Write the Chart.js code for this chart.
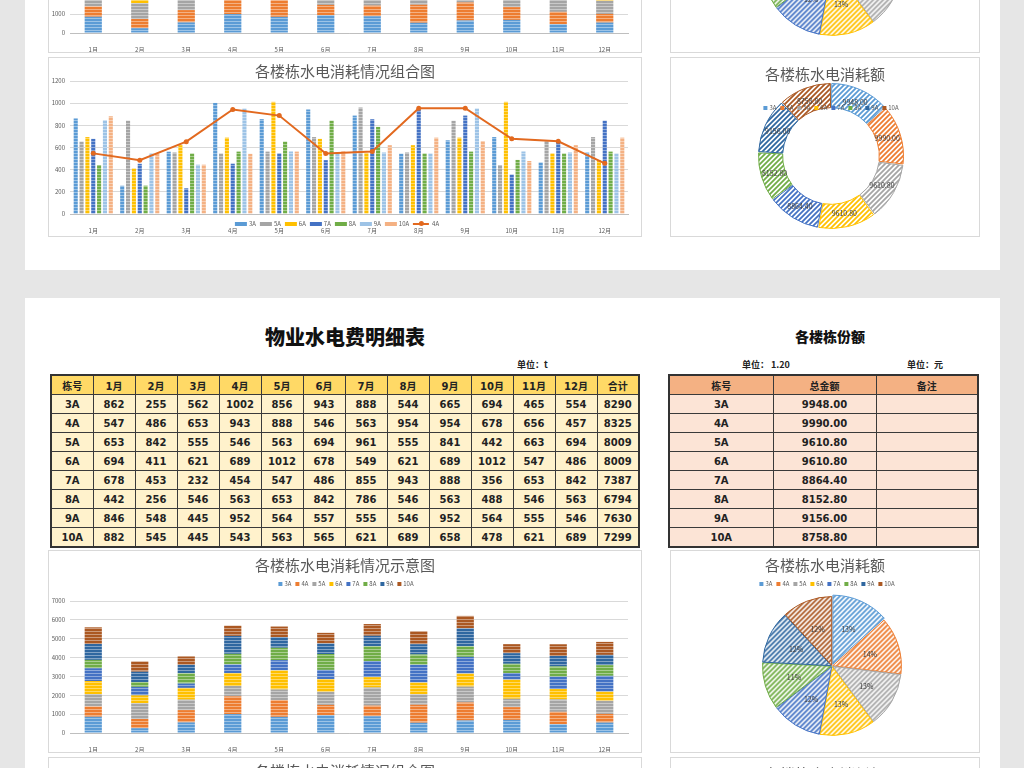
<!DOCTYPE html>
<html lang="zh">
<head>
<meta charset="utf-8">
<title>物业水电费明细表</title>
<script src="https://cdn.jsdelivr.net/npm/chart.js@4.4.1/dist/chart.umd.min.js"></script>
<style>
  html, body { margin: 0; padding: 0; }
  body { width: 1024px; height: 768px; overflow: hidden; position: relative; background: #e6e6e6; font-family: "Noto Sans CJK SC", sans-serif; }
  .sheet { position: absolute; left: 25px; width: 975px; height: 672px; background: #fff; }
  .card { position: absolute; box-sizing: border-box; border: 1px solid #d9d9d9; background: #fff; overflow: hidden; }
  .card .cv { position: absolute; left: 0; top: 0; right: 0; bottom: 0; }
  .ctitle { position: absolute; left: 0; right: 0; text-align: center; font-size: 15px; line-height: 18px; color: #595959; }
  .legend { position: absolute; transform: translateX(-50%); white-space: nowrap; font-size: 6px; line-height: 8px; color: #595959; }
  .legend span { display: inline-block; margin: 0 2px; }
  .legend i { display: inline-block; vertical-align: middle; margin-right: 2px; }
  .main-title { position: absolute; left: 220px; width: 200px; top: 26px; text-align: center; font-size: 20px; font-weight: 900; line-height: 26px; color: #111; }
  .sub-title { position: absolute; left: 745px; width: 120px; top: 29px; text-align: center; font-size: 14px; font-weight: 900; line-height: 18px; color: #111; }
  .unit { position: absolute; top: 61px; font-size: 9px; font-weight: bold; line-height: 12px; color: #222; }
  table { position: absolute; top: 76px; border-collapse: collapse; table-layout: fixed; border: 2px solid #333;
          font: bold 10px "DejaVu Sans", "Noto Sans CJK SC", sans-serif; color: #222; }
  td, th { border: 1px solid #3a3a3a; height: 18px; padding: 0; text-align: center; font-weight: bold; }
  .t1 { left: 25px; width: 590px; }
  .t1 th { background: #ffd966; }
  .t1 td { background: #fff2cc; }
  .t2 { left: 643px; width: 309px; }
  .t2 th { background: #f4b183; }
  .t2 td { background: #fce4d6; }
</style>
</head>
<body>
<script>
const months = ['1月', '2月', '3月', '4月', '5月', '6月', '7月', '8月', '9月', '10月', '11月', '12月'];
const buildings = ['3A', '4A', '5A', '6A', '7A', '8A', '9A', '10A'];

// monthly usage per building (t)
const use3A  = [862, 255, 562, 1002, 856, 943, 888, 544, 665, 694, 465, 554];
const use4A  = [547, 486, 653, 943, 888, 546, 563, 954, 954, 678, 656, 457];
const use5A  = [653, 842, 555, 546, 563, 694, 961, 555, 841, 442, 663, 694];
const use6A  = [694, 411, 621, 689, 1012, 678, 549, 621, 689, 1012, 547, 486];
const use7A  = [678, 453, 232, 454, 547, 486, 855, 943, 888, 356, 653, 842];
const use8A  = [442, 256, 546, 563, 653, 842, 786, 546, 563, 488, 546, 563];
const use9A  = [846, 548, 445, 952, 564, 557, 555, 546, 952, 564, 555, 546];
const use10A = [882, 545, 445, 543, 563, 565, 621, 689, 658, 478, 621, 689];
const usage = [use3A, use4A, use5A, use6A, use7A, use8A, use9A, use10A];

const yearTotals = [8290, 8325, 8009, 8009, 7387, 6794, 7630, 7299];
const amounts = [9948.00, 9990.00, 9610.80, 9610.80, 8864.40, 8152.80, 9156.00, 8758.80];
const pieShares = ['13%', '14%', '13%', '13%', '12%', '11%', '12%', '12%'];
const unitPrice = '1.20';

const stackMax = 7000, stackStep = 1000;
const comboMax = 1200, comboStep = 200;

const stackColors = ['#5b9bd5', '#ed7d31', '#a5a5a5', '#ffc000', '#4472c4', '#70ad47', '#2f67a0', '#ab5822'];
// combo chart: bars for everything but 4A, 4A is the line
const comboBuildings = ['3A', '5A', '6A', '7A', '8A', '9A', '10A'];
const comboUsage = [use3A, use5A, use6A, use7A, use8A, use9A, use10A];
const comboColors = ['#5b9bd5', '#a5a5a5', '#ffc000', '#4472c4', '#70ad47', '#9dc3e6', '#f4b183'];
const lineColor = '#e2691f';

Chart.defaults.font.family = '"Noto Sans CJK SC", sans-serif';
Chart.defaults.color = '#595959';
Chart.defaults.animation = false;

function hStripe(color) {
  const c = document.createElement('canvas');
  c.width = 6; c.height = 3;
  const g = c.getContext('2d');
  g.fillStyle = color; g.fillRect(0, 0, 6, 3);
  g.fillStyle = 'rgba(255,255,255,0.4)'; g.fillRect(0, 2, 6, 1);
  return g.createPattern(c, 'repeat');
}

function dStripe(color) {
  const s = 5;
  const c = document.createElement('canvas');
  c.width = s; c.height = s;
  const g = c.getContext('2d');
  g.fillStyle = '#fff'; g.fillRect(0, 0, s, s);
  g.strokeStyle = color; g.lineWidth = 1.8;
  g.beginPath();
  g.moveTo(0, s); g.lineTo(s, 0);
  g.moveTo(-1, 1); g.lineTo(1, -1);
  g.moveTo(s - 1, s + 1); g.lineTo(s + 1, s - 1);
  g.stroke();
  return g.createPattern(c, 'repeat');
}

// text inside pie / doughnut slices
const arcLabels = {
  id: 'arcLabels',
  afterDatasetsDraw(chart, args, opts) {
    if (!opts.texts) return;
    const ctx = chart.ctx;
    const meta = chart.getDatasetMeta(0);
    ctx.save();
    ctx.font = opts.font;
    ctx.fillStyle = '#404040';
    ctx.textAlign = 'center';
    ctx.textBaseline = 'middle';
    meta.data.forEach((arc, i) => {
      const p = arc.getProps(['x', 'y', 'startAngle', 'endAngle', 'innerRadius', 'outerRadius']);
      const a = (p.startAngle + p.endAngle) / 2;
      const r = p.innerRadius + (p.outerRadius - p.innerRadius) * opts.pos;
      ctx.fillText(opts.texts[i], p.x + Math.cos(a) * r, p.y + Math.sin(a) * r);
    });
    ctx.restore();
  }
};

function legendHtml(items) {
  return items.map((it) => {
    if (it.line) {
      return `<span><i style="width:16px;height:2px;background:${it.c};position:relative;margin-right:3px">` +
             `<b style="position:absolute;left:6px;top:-2px;width:5px;height:5px;border-radius:50%;background:${it.c}"></b></i>${it.t}</span>`;
    }
    return `<span><i style="width:${it.w}px;height:${it.h}px;background:${it.c}"></i>${it.t}</span>`;
  }).join('');
}

const squareItems = buildings.map((b, i) => ({ t: b, c: stackColors[i], w: 4, h: 4 }));
const comboItems = comboBuildings.map((b, i) => ({ t: b, c: comboColors[i], w: 12, h: 4 }))
  .concat([{ t: '4A', c: lineColor, line: true }]);

const axisTicks = { font: { size: 6 }, padding: 5 };
const plainNum = (v) => String(v);

function stackedChart(cv) {
  return new Chart(cv, {
    type: 'bar',
    data: {
      labels: months,
      datasets: buildings.map((b, i) => ({
        label: b, data: usage[i], backgroundColor: hStripe(stackColors[i]),
        barPercentage: 0.37, categoryPercentage: 1
      }))
    },
    options: {
      responsive: true, maintainAspectRatio: false, events: [],
      layout: { padding: { top: 50, left: 0, right: 13, bottom: 0 } },
      plugins: { legend: { display: false }, tooltip: { enabled: false } },
      scales: {
        x: { stacked: true, grid: { display: false }, border: { color: '#bfbfbf' },
             ticks: { ...axisTicks, maxRotation: 0, autoSkip: false }, afterFit: (s) => { s.height = 19; } },
        y: { stacked: true, min: 0, max: stackMax, ticks: { ...axisTicks, stepSize: stackStep, callback: plainNum },
             grid: { color: '#d9d9d9', drawTicks: false }, border: { display: false }, afterFit: (s) => { s.width = 21; } }
      }
    }
  });
}

function comboChart(cv) {
  const bars = comboBuildings.map((b, i) => ({
    type: 'bar', label: b, data: comboUsage[i], backgroundColor: hStripe(comboColors[i]),
    barPercentage: 0.7, categoryPercentage: 0.88, order: 1
  }));
  return new Chart(cv, {
    type: 'bar',
    data: {
      labels: months,
      datasets: [{
        type: 'line', label: '4A', data: use4A, borderColor: lineColor, backgroundColor: lineColor,
        borderWidth: 2, pointRadius: 2.5, pointBorderWidth: 0, tension: 0, order: 0
      }].concat(bars)
    },
    options: {
      responsive: true, maintainAspectRatio: false, events: [],
      layout: { padding: { top: 23, left: 0, right: 13, bottom: 0 } },
      plugins: { legend: { display: false }, tooltip: { enabled: false } },
      scales: {
        x: { grid: { display: false }, border: { color: '#bfbfbf' },
             ticks: { ...axisTicks, maxRotation: 0, autoSkip: false }, afterFit: (s) => { s.height = 22; } },
        y: { min: 0, max: comboMax, ticks: { ...axisTicks, stepSize: comboStep, callback: plainNum },
             grid: { color: '#d9d9d9', drawTicks: false }, border: { display: false }, afterFit: (s) => { s.width = 21; } }
      }
    }
  });
}

function pieChart(cv) {
  return new Chart(cv, {
    type: 'pie',
    data: {
      labels: buildings,
      datasets: [{
        data: amounts, backgroundColor: stackColors.map(dStripe), borderColor: stackColors,
        borderWidth: 1, offset: [8, 3, 3, 3, 3, 3, 3, 3]
      }]
    },
    options: {
      responsive: true, maintainAspectRatio: false, events: [],
      layout: { padding: { top: 42, left: 88, right: 74, bottom: 13 } },
      plugins: {
        legend: { display: false }, tooltip: { enabled: false },
        arcLabels: { texts: pieShares, pos: 0.58, font: '7px "Noto Sans CJK SC", sans-serif' }
      }
    },
    plugins: [arcLabels]
  });
}

function donutChart(cv) {
  return new Chart(cv, {
    type: 'doughnut',
    data: {
      labels: buildings,
      datasets: [{
        data: amounts, backgroundColor: stackColors.map(dStripe), borderColor: stackColors,
        borderWidth: 1, spacing: 3
      }]
    },
    options: {
      responsive: true, maintainAspectRatio: false, events: [], cutout: '66%',
      layout: { padding: { top: 25, left: 87, right: 75, bottom: 7 } },
      plugins: {
        legend: { display: false }, tooltip: { enabled: false },
        arcLabels: { texts: amounts.map((v) => v.toFixed(2)), pos: 0.5, font: '7px "Noto Sans CJK SC", sans-serif' }
      }
    },
    plugins: [arcLabels]
  });
}

function tableLeft() {
  let h = '<table class="t1"><tr><th>栋号</th>' + months.map((m) => `<th>${m}</th>`).join('') + '<th>合计</th></tr>';
  buildings.forEach((b, i) => {
    h += `<tr><td>${b}</td>` + usage[i].map((v) => `<td>${v}</td>`).join('') + `<td>${yearTotals[i]}</td></tr>`;
  });
  return h + '</table>';
}

function tableRight() {
  let h = '<table class="t2"><col style="width:104px"><col style="width:103px"><col style="width:102px">' +
          '<tr><th>栋号</th><th>总金额</th><th>备注</th></tr>';
  buildings.forEach((b, i) => {
    h += `<tr><td>${b}</td><td>${amounts[i].toFixed(2)}</td><td></td></tr>`;
  });
  return h + '</table>';
}

function makeSheet(top) {
  const s = document.createElement('div');
  s.className = 'sheet';
  s.style.top = top + 'px';
  s.innerHTML = `
    <div class="main-title">物业水电费明细表</div>
    <div class="unit" style="left:492px">单位：t</div>
    ${tableLeft()}
    <div class="sub-title">各楼栋份额</div>
    <div class="unit" style="left:717px">单位：&nbsp;${unitPrice}</div>
    <div class="unit" style="left:882px">单位：元</div>
    ${tableRight()}
    <div class="card" style="left:23px;top:252px;width:594px;height:203px">
      <div class="cv"><canvas class="c-stack"></canvas></div>
      <div class="ctitle" style="top:5px">各楼栋水电消耗情况示意图</div>
      <div class="legend" style="left:297px;top:29px">${legendHtml(squareItems)}</div>
    </div>
    <div class="card" style="left:645px;top:252px;width:310px;height:203px">
      <div class="cv"><canvas class="c-pie"></canvas></div>
      <div class="ctitle" style="top:5px">各楼栋水电消耗额</div>
      <div class="legend" style="left:156px;top:29px">${legendHtml(squareItems)}</div>
    </div>
    <div class="card" style="left:23px;top:459px;width:594px;height:180px">
      <div class="cv"><canvas class="c-combo"></canvas></div>
      <div class="ctitle" style="top:4px">各楼栋水电消耗情况组合图</div>
      <div class="legend" style="left:288px;top:162px">${legendHtml(comboItems)}</div>
    </div>
    <div class="card" style="left:645px;top:459px;width:310px;height:180px">
      <div class="cv"><canvas class="c-donut"></canvas></div>
      <div class="ctitle" style="top:7px">各楼栋水电消耗额</div>
    </div>`;
  document.body.appendChild(s);
  stackedChart(s.querySelector('.c-stack'));
  pieChart(s.querySelector('.c-pie'));
  comboChart(s.querySelector('.c-combo'));
  donutChart(s.querySelector('.c-donut'));
  // donut legend sits over the ring, so it goes on top of the canvas
  const lg = document.createElement('div');
  lg.className = 'legend';
  lg.style.left = '160px';
  lg.style.top = '46px';
  lg.innerHTML = legendHtml(squareItems);
  s.querySelector('.c-donut').closest('.card').appendChild(lg);
}

makeSheet(-402);
makeSheet(298);
</script>
</body>
</html>
